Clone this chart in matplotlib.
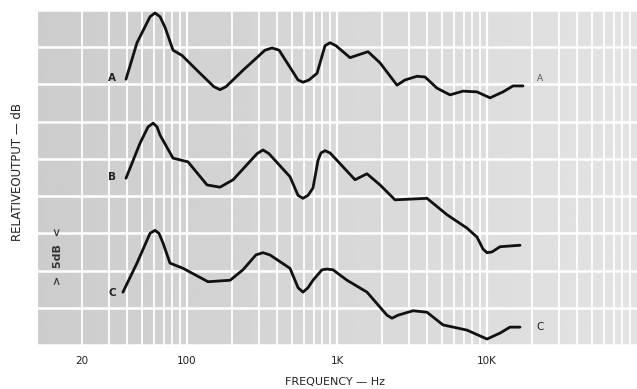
import matplotlib
matplotlib.use('Agg')
import matplotlib.pyplot as plt
import numpy as np

# curve A
freq_a = [39.2, 46.4, 56.7, 61.2, 66.1, 71.3, 80.7, 92.6, 116.6, 151, 166, 182, 236, 331,
          369, 411, 486, 550, 593, 650, 736, 832, 898, 985, 1221, 1610, 1936, 2512, 2840,
          3415, 3862, 4642, 5665, 6918, 8577, 10470, 12790, 14900, 17380]
level_a = [35.7, 40.6, 44.1, 44.6, 44.1, 42.7, 39.6, 38.9, 36.9, 34.7, 34.3, 34.7, 36.9,
           39.6, 39.9, 39.6, 37.3, 35.6, 35.3, 35.6, 36.5, 40.2, 40.6, 40.2, 38.6, 39.4,
           37.9, 34.9, 35.6, 36.1, 36.0, 34.5, 33.6, 34.1, 34.0, 33.2, 34.0, 34.8, 34.8]

# curve B
freq_b = [39.2, 48.6, 55.0, 59.4, 63.1, 66.1, 80.7, 101.6, 136, 166, 203, 293, 321, 352,
          486, 550, 593, 641, 692, 747, 782, 832, 898, 1000, 1318, 1585, 1936, 2436, 3981,
          5412, 7356, 8577, 9397, 10000, 10790, 12210, 16600]
level_b = [22.4, 27.1, 29.3, 29.8, 29.3, 28.2, 25.1, 24.6, 21.5, 21.2, 22.2, 25.7, 26.2,
           25.7, 22.6, 20.1, 19.7, 20.1, 21.1, 24.8, 25.8, 26.1, 25.8, 24.8, 22.2, 23.0,
           21.5, 19.5, 19.7, 17.5, 15.7, 14.5, 12.9, 12.4, 12.5, 13.2, 13.4]

# curve C
freq_c = [37.4, 46.4, 56.7, 61.2, 65.0, 69.2, 77.0, 94.1, 138, 194, 236, 288, 321, 357,
          486, 550, 593, 641, 692, 794, 858, 940, 1166, 1585, 2154, 2326, 2551, 3212,
          3981, 5089, 7356, 10000, 12210, 14230, 16600]
level_c = [7.1, 11.0, 15.0, 15.4, 15.0, 13.7, 11.0, 10.3, 8.5, 8.7, 10.1, 12.1, 12.4,
           12.1, 10.3, 7.7, 7.1, 7.7, 8.7, 10.1, 10.2, 10.1, 8.7, 7.1, 4.0, 3.6, 4.0, 4.6,
           4.4, 2.7, 2.0, 0.8, 1.6, 2.4, 2.4]

tick_freqs = [20, 100, 1000, 10000]
tick_labels = ['20', '100', '1K', '10K']

fig = plt.figure(figsize=(6.37, 3.89), dpi=100)
ax = fig.add_axes([37 / 637, 1 - 345 / 389, 600 / 637, 335 / 389])

ax.set_xscale('log')
ax.set_xlim(10, 100000)
ax.set_ylim(0, 45)

# scanned paper: darker on the left, lighter to the right
shade = np.linspace(0.80, 0.89, 256).reshape(1, -1)
ax.imshow(shade, cmap='gray', vmin=0, vmax=1, extent=[0, 1, 0, 1],
          transform=ax.transAxes, aspect='auto', zorder=0)

# log paper grid
for dec in [10, 100, 1000, 10000]:
    for m in range(1, 10):
        ax.axvline(dec * m, color='white', lw=1.6 if m == 1 else 1.3, zorder=1)
for y in np.arange(0, 46, 5):
    ax.axhline(y, color='white', lw=1.8, zorder=1)

for f, lv in [(freq_a, level_a), (freq_b, level_b), (freq_c, level_c)]:
    ax.plot(f, lv, color='#111111', lw=2.0, solid_capstyle='round',
            solid_joinstyle='round', zorder=3)

# curve labels
lab = dict(fontsize=7.5, fontweight='bold', color='#222222', ha='center', va='center')
ax.text(31.5, 35.8, 'A', **lab)
ax.text(31.5, 22.5, 'B', **lab)
ax.text(32.0, 7.0, 'C', **lab)
ax.text(22500, 35.8, 'A', fontsize=6.5, color='#555555', ha='center', va='center')
ax.text(22500, 2.4, 'C', fontsize=7.5, color='#222222', ha='center', va='center')

# 5 dB marker
ax.text(13.9, 11.9, '>  5dB  <', rotation=90, fontsize=8, fontweight='bold',
        color='#333333', ha='center', va='center')

for s in ax.spines.values():
    s.set_visible(False)
ax.set_xticks(tick_freqs)
ax.set_xticklabels(tick_labels)
ax.xaxis.set_minor_locator(matplotlib.ticker.NullLocator())
ax.set_yticks([])
ax.tick_params(axis='x', length=0, pad=8, labelsize=7.5, colors='#222222')

fig.text(18 / 637, 1 - 172 / 389, 'RELATIVEOUTPUT — dB', rotation=90, fontsize=8.5,
         color='#222222', ha='center', va='center')
fig.text(335 / 637, 1 - 382 / 389, 'FREQUENCY — Hz', fontsize=8, color='#222222',
         ha='center', va='center')

fig.savefig('out.png', dpi=100)
